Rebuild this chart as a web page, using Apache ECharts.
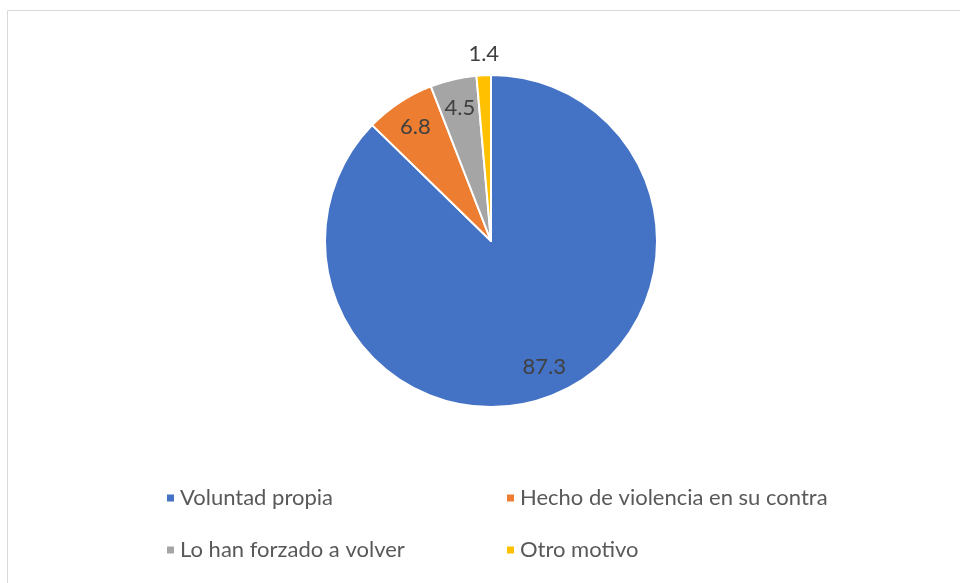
<!DOCTYPE html>
<html>
<head>
  <meta charset="utf-8">
  <script src="https://cdn.jsdelivr.net/npm/echarts@6/dist/echarts.min.js"></script>
  <style>
    html, body { margin: 0; padding: 0; background: #fff; }
    #chart { width: 960px; height: 583px; }
  </style>
</head>
<body>
  <div id="chart"></div>
  <script>
    var categories = ['Voluntad propia', 'Hecho de violencia en su contra', 'Lo han forzado a volver', 'Otro motivo'];
    var values = [87.3, 6.8, 4.5, 1.4];
    var colors = ['#4472C4', '#ED7D31', '#A5A5A5', '#FFC000'];
    // which slice keeps its label outside the pie
    var outsideLabel = [false, false, false, true];

    var fontName = 'Lato, "Open Sans", sans-serif';
    var myChart = echarts.init(document.getElementById('chart'));

    var pieData = categories.map(function (name, i) {
      return {
        name: name,
        value: values[i],
        itemStyle: { color: colors[i] },
        label: { show: outsideLabel[i] }
      };
    });

    // invisible twin of the pie, only used to place the inside labels further out
    var labelData = categories.map(function (name, i) {
      return {
        name: name,
        value: values[i],
        label: { show: !outsideLabel[i] }
      };
    });

    var option = {
      animation: false,
      graphic: [{
        type: 'rect',
        shape: { x: 7.5, y: 10.5, width: 1000, height: 1000 },
        style: { fill: 'none', stroke: '#d9d9d9', lineWidth: 1 },
        silent: true
      }],
      legend: {
        data: categories,
        left: 160,
        top: 482,
        width: 700,
        icon: 'rect',
        itemWidth: 9,
        itemHeight: 9,
        itemGap: 30,
        textStyle: {
          fontFamily: fontName,
          fontSize: 22,
          color: '#595959',
          width: 295,
          lineHeight: 22
        }
      },
      series: [{
        type: 'pie',
        center: [491, 241],
        radius: [0, 166],
        startAngle: 90,
        clockwise: true,
        silent: true,
        data: pieData,
        itemStyle: { borderColor: '#fff', borderWidth: 2 },
        label: {
          position: 'outside',
          formatter: '{c}',
          fontFamily: fontName,
          fontSize: 22,
          color: '#404040'
        },
        labelLine: { show: false, length: 21, length2: 0 },
        labelLayout: function (p) {
          return { align: 'center', dx: 6 };
        }
      }, {
        type: 'pie',
        center: [491, 241],
        radius: [0, 268],
        startAngle: 90,
        clockwise: true,
        silent: true,
        legendHoverLink: false,
        data: labelData,
        itemStyle: { color: 'rgba(0,0,0,0)' },
        label: {
          position: 'inside',
          formatter: '{c}',
          fontFamily: fontName,
          fontSize: 22,
          color: '#404040'
        },
        labelLine: { show: false }
      }]
    };

    myChart.setOption(option);
  </script>
</body>
</html>
